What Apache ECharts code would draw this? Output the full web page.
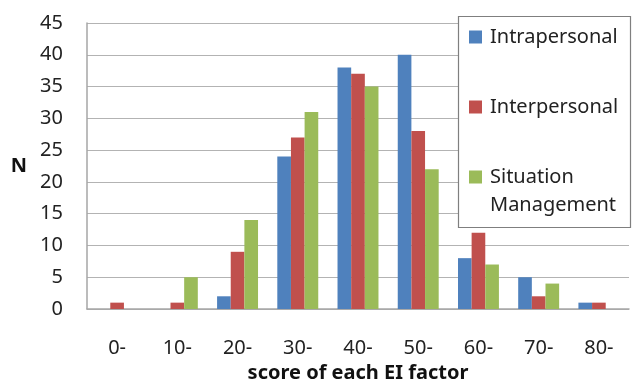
<!DOCTYPE html>
<html>
<head>
<meta charset="utf-8">
<script src="https://cdn.jsdelivr.net/npm/echarts@6/dist/echarts.min.js"></script>
<style>
  html, body { margin: 0; padding: 0; background: #fff; }
  #chart { width: 636px; height: 380px; }
</style>
</head>
<body>
<div id="chart"></div>
<script>
// Score bands of each EI factor
const categories = ['0-', '10-', '20-', '30-', '40-', '50-', '60-', '70-', '80-'];
const intrapersonal = [0, 0, 2, 24, 38, 40, 8, 5, 1];
const interpersonal = [1, 1, 9, 27, 37, 28, 12, 2, 1];
const situationManagement = [0, 5, 14, 31, 35, 22, 7, 4, 0];
const yTicks = { min: 0, max: 45, interval: 5 };

const FONT = '"Noto Sans", "Open Sans", sans-serif';
const chart = echarts.init(document.getElementById('chart'));

chart.setOption({
  animation: false,
  backgroundColor: '#fff',
  textStyle: { fontFamily: FONT },
  grid: { left: 87, right: 7, top: 23, bottom: 71, containLabel: false, outerBoundsMode: 'none' },
  xAxis: {
    type: 'category',
    data: categories,
    name: 'score of each EI factor',
    nameLocation: 'middle',
    nameGap: 53,
    nameTextStyle: { fontFamily: FONT, fontSize: 20, fontWeight: 'bold', color: '#111' },
    axisLine: { lineStyle: { color: '#a6a6a6', width: 1.5 } },
    axisTick: { show: false },
    axisLabel: { margin: 29, fontSize: 20, color: '#222', fontFamily: FONT }
  },
  yAxis: {
    type: 'value',
    min: yTicks.min,
    max: yTicks.max,
    interval: yTicks.interval,
    name: 'N',
    nameLocation: 'middle',
    nameRotate: 0,
    nameGap: 60,
    nameTextStyle: { fontFamily: FONT, fontSize: 20, fontWeight: 'bold', color: '#111' },
    axisLine: { show: true, lineStyle: { color: '#a6a6a6', width: 1.5 } },
    axisTick: { show: false },
    axisLabel: { margin: 24, fontSize: 20, color: '#222', fontFamily: FONT },
    splitLine: { lineStyle: { color: '#b3b3b3', width: 1.2 } }
  },
  legend: {
    orient: 'vertical',
    left: 469,
    top: 25,
    padding: 0,
    itemWidth: 13,
    itemHeight: 13,
    itemGap: 46,
    icon: 'rect',
    z: 10,
    textStyle: { fontFamily: FONT, fontSize: 20, color: '#222', lineHeight: 24, padding: [0, 0, 0, 3] },
    data: ['Intrapersonal', 'Interpersonal', 'Situation']
  },
  graphic: [
    {
      type: 'rect',
      z: 5,
      shape: { x: 458.5, y: 16.5, width: 172, height: 211 },
      style: { fill: '#fff', stroke: '#7f7f7f', lineWidth: 1.2 }
    },
    {
      type: 'text',
      z: 11,
      style: { x: 490, y: 205, text: 'Management', font: '20px ' + FONT, fill: '#222', verticalAlign: 'middle' }
    }
  ],
  series: [
    { name: 'Intrapersonal', type: 'bar', data: intrapersonal, barGap: '0%', barCategoryGap: '32%',
      itemStyle: { color: '#4f81bd' } },
    { name: 'Interpersonal', type: 'bar', data: interpersonal,
      itemStyle: { color: '#c0504d' } },
    { name: 'Situation', type: 'bar', data: situationManagement,
      itemStyle: { color: '#9bbb59' } }
  ]
});
</script>
</body>
</html>
